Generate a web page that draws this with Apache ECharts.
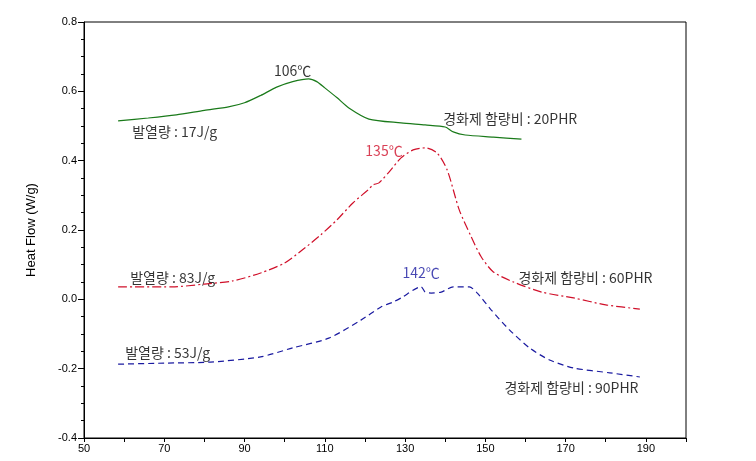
<!DOCTYPE html>
<html>
<head>
<meta charset="utf-8">
<script src="https://cdn.jsdelivr.net/npm/echarts@6/dist/echarts.min.js"></script>
<style>
  html, body { margin: 0; padding: 0; background: #fff; }
  #chart { width: 756px; height: 461px; }
</style>
</head>
<body>
<div id="chart"></div>
<script>
// 경화제 함량비 20PHR (green, solid)
const temp20 = [58.5, 66, 73, 80, 86, 90, 94, 98, 102, 106, 108, 110, 113, 116, 121, 129, 135, 140, 142, 145, 152, 159];
const heat20 = [0.515, 0.523, 0.532, 0.545, 0.555, 0.567, 0.588, 0.612, 0.628, 0.636, 0.628, 0.610, 0.582, 0.552, 0.520, 0.509, 0.503, 0.497, 0.483, 0.474, 0.468, 0.462];

// 경화제 함량비 60PHR (red, dash-dot)
const temp60 = [58.5, 72, 80, 87, 94, 100, 105, 109, 113, 117, 121, 122, 123.5, 126, 129, 132, 135, 138, 140.5, 143.5, 146.5, 149, 152, 157, 164, 172, 180, 188.5];
const heat60 = [0.036, 0.036, 0.044, 0.053, 0.076, 0.105, 0.148, 0.186, 0.229, 0.278, 0.318, 0.330, 0.336, 0.367, 0.408, 0.431, 0.437, 0.422, 0.373, 0.258, 0.180, 0.122, 0.079, 0.050, 0.021, 0.004, -0.016, -0.028];

// 경화제 함량비 90PHR (blue, dashed)
const temp90 = [58.5, 70, 81.5, 94, 102, 111, 119, 124, 127, 129, 134, 135, 136.5, 139, 142, 146, 148, 151.5, 156, 161, 166, 172, 181, 188.5];
const heat90 = [-0.187, -0.184, -0.181, -0.166, -0.140, -0.112, -0.060, -0.022, -0.008, 0.004, 0.036, 0.021, 0.018, 0.021, 0.036, 0.036, 0.018, -0.031, -0.088, -0.140, -0.175, -0.198, -0.212, -0.224];

// annotation texts: [temperature, heat flow, text, colour, align]
const notes = [
  [102, 0.659, '106℃', '#000', 'center'],
  [62, 0.483, '발열량 : 17J/g', '#000', 'left'],
  [139.5, 0.520, '경화제 함량비 : 20PHR', '#000', 'left'],
  [124.75, 0.428, '135℃', '#d0102a', 'center'],
  [61.5, 0.0615, '발열량 : 83J/g', '#000', 'left'],
  [158.25, 0.0615, '경화제 함량비 : 60PHR', '#000', 'left'],
  [134, 0.076, '142℃', '#1a1aa0', 'center'],
  [60.25, -0.155, '발열량 : 53J/g', '#000', 'left'],
  [154.75, -0.256, '경화제 함량비 : 90PHR', '#000', 'left']
];

const xTicks = [50, 70, 90, 110, 130, 150, 170, 190];

const zip = (xs, ys) => xs.map((x, i) => [x, ys[i]]);

const chart = echarts.init(document.getElementById('chart'));

const option = {
  animation: false,
  backgroundColor: '#fff',
  grid: {
    left: 84, right: 70, top: 22, bottom: 23,
    show: true, borderColor: '#000', borderWidth: 1
  },
  xAxis: {
    type: 'value',
    min: 50, max: 200, interval: 10,
    axisLine: { onZero: false, lineStyle: { color: '#000' } },
    axisTick: { length: 4, lineStyle: { color: '#000' } },
    axisLabel: {
      color: '#000', fontFamily: 'Liberation Sans, Arial', fontSize: 11, margin: 5,
      formatter: v => xTicks.includes(v) ? String(v) : ''
    },
    splitLine: { show: false }
  },
  yAxis: {
    type: 'value',
    min: -0.4, max: 0.8, interval: 0.2,
    name: 'Heat Flow (W/g)',
    nameLocation: 'middle',
    nameGap: 46,
    nameTextStyle: { color: '#000', fontFamily: 'Liberation Sans, Arial', fontSize: 13 },
    axisLine: { show: true, onZero: false, lineStyle: { color: '#000' } },
    axisTick: { length: 6, lineStyle: { color: '#000' } },
    minorTick: { show: true, splitNumber: 4, length: 3, lineStyle: { color: '#000' } },
    axisLabel: {
      color: '#000', fontFamily: 'Liberation Sans, Arial', fontSize: 11, margin: 7,
      formatter: v => v.toFixed(1)
    },
    splitLine: { show: false }
  },
  series: [
    {
      name: '20PHR', type: 'line', data: zip(temp20, heat20),
      smooth: 0.25, showSymbol: false,
      lineStyle: { color: '#1a7a1a', width: 1.2, type: 'solid' }
    },
    {
      name: '60PHR', type: 'line', data: zip(temp60, heat60),
      smooth: 0.25, showSymbol: false,
      lineStyle: { color: '#d0102a', width: 1.2, type: [9, 3, 2, 3] }
    },
    {
      name: '90PHR', type: 'line', data: zip(temp90, heat90),
      smooth: 0.25, showSymbol: false,
      lineStyle: { color: '#1a1aa0', width: 1.2, type: [6, 4] }
    },
    {
      name: 'notes', type: 'scatter', symbolSize: 0, silent: true,
      data: notes.map(n => ({
        value: [n[0], n[1]],
        label: {
          show: true, position: 'inside', formatter: n[2], color: n[3], align: n[4],
          verticalAlign: 'middle',
          fontFamily: 'Noto Sans CJK KR, Liberation Sans', fontSize: 14
        }
      }))
    }
  ]
};

chart.setOption(option);
</script>
</body>
</html>
